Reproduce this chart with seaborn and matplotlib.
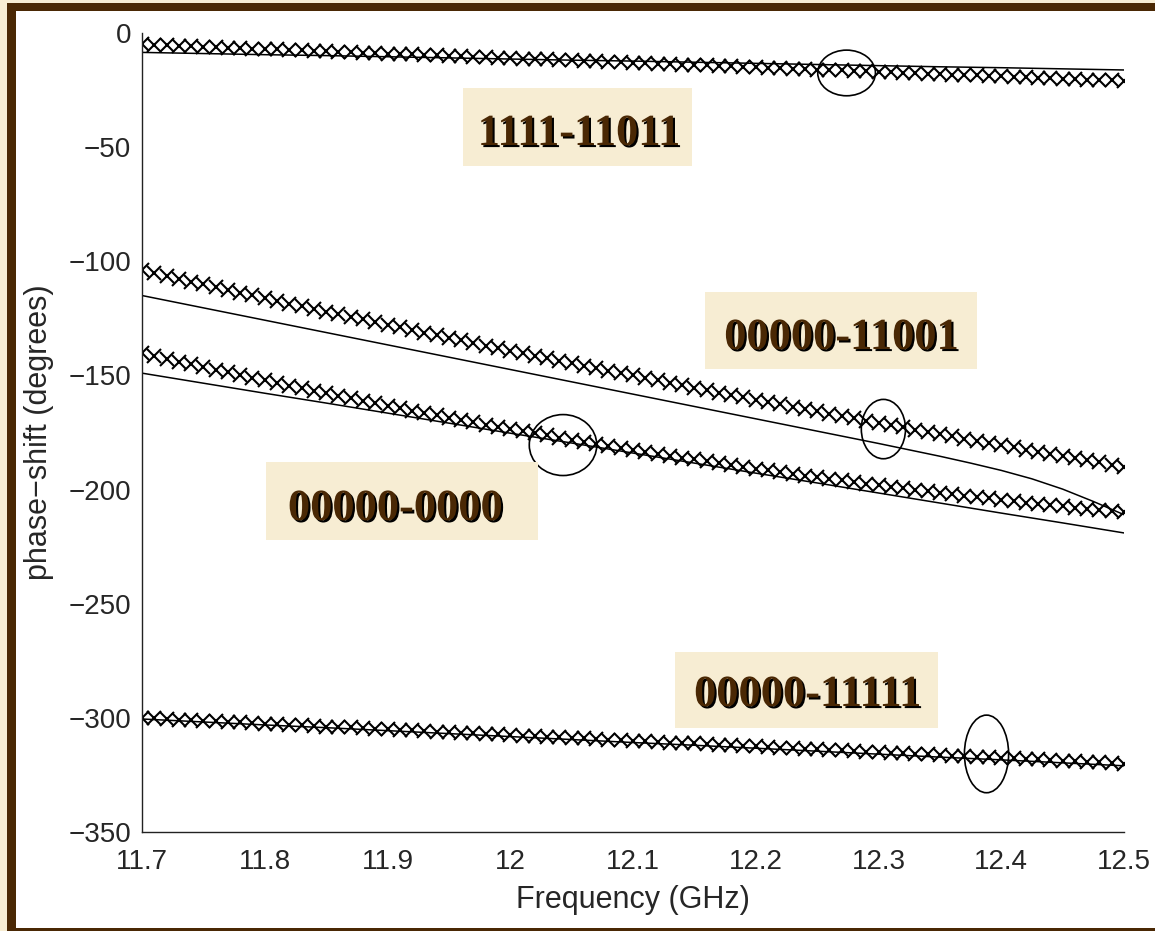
"""
Phase-shift vs frequency for four switch states (measured x vs simulated line)
"""
import numpy as np
import pandas as pd
import matplotlib
matplotlib.use("Agg")
import matplotlib.pyplot as plt
import matplotlib.patheffects as pe
from matplotlib.patches import Ellipse, Rectangle
import seaborn as sns

# ---- data ----
freq_pts = np.linspace(11.7, 12.5, 81)      # marker sweep, 10 MHz step
freq_line = np.linspace(11.7, 12.5, 17)     # simulated curves, 50 MHz step

meas_1111_11011 = [
    -5.0, -5.2, -5.4, -5.6, -5.8, -6.0, -6.2, -6.4, -6.6, -6.8,
    -7.0, -7.2, -7.4, -7.6, -7.8, -8.0, -8.2, -8.4, -8.6, -8.8,
    -9.0, -9.2, -9.4, -9.6, -9.8, -10.0, -10.2, -10.4, -10.6, -10.8,
    -11.0, -11.2, -11.4, -11.6, -11.8, -12.0, -12.2, -12.4, -12.6, -12.8,
    -13.0, -13.2, -13.4, -13.6, -13.8, -14.0, -14.2, -14.4, -14.6, -14.8,
    -15.0, -15.2, -15.4, -15.6, -15.8, -16.0, -16.2, -16.4, -16.6, -16.8,
    -17.0, -17.2, -17.4, -17.6, -17.8, -18.0, -18.2, -18.4, -18.6, -18.8,
    -19.0, -19.2, -19.4, -19.6, -19.8, -20.0, -20.2, -20.4, -20.6, -20.8,
    -21.0,
]
meas_00000_11001 = [
    -104.0, -105.2, -106.4, -107.7, -108.9, -110.1, -111.3, -112.5, -113.7, -114.9,
    -116.1, -117.3, -118.5, -119.6, -120.8, -122.0, -123.1, -124.3, -125.5, -126.6,
    -127.8, -128.9, -130.1, -131.2, -132.4, -133.5, -134.6, -135.7, -136.9, -138.0,
    -139.1, -140.2, -141.3, -142.4, -143.5, -144.6, -145.7, -146.8, -147.9, -149.0,
    -150.0, -151.1, -152.2, -153.2, -154.3, -155.4, -156.4, -157.5, -158.5, -159.6,
    -160.6, -161.6, -162.7, -163.7, -164.7, -165.7, -166.8, -167.8, -168.8, -169.8,
    -170.8, -171.8, -172.8, -173.8, -174.7, -175.7, -176.7, -177.7, -178.7, -179.6,
    -180.6, -181.5, -182.5, -183.4, -184.4, -185.3, -186.3, -187.2, -188.1, -189.1,
    -190.0,
]
meas_00000_0000 = [
    -140.2, -141.5, -142.7, -143.9, -145.1, -146.3, -147.5, -148.7, -149.9, -151.1,
    -152.2, -153.4, -154.5, -155.6, -156.8, -157.9, -159.0, -160.1, -161.1, -162.2,
    -163.3, -164.3, -165.4, -166.4, -167.4, -168.5, -169.5, -170.5, -171.5, -172.4,
    -173.4, -174.4, -175.3, -176.3, -177.2, -178.1, -179.0, -179.9, -180.8, -181.7,
    -182.6, -183.4, -184.3, -185.2, -186.0, -186.8, -187.6, -188.5, -189.3, -190.0,
    -190.8, -191.6, -192.4, -193.1, -193.9, -194.6, -195.3, -196.0, -196.7, -197.4,
    -198.1, -198.8, -199.5, -200.1, -200.8, -201.4, -202.1, -202.7, -203.3, -203.9,
    -204.5, -205.1, -205.7, -206.2, -206.8, -207.3, -207.9, -208.4, -208.9, -209.4,
    -209.9,
]
meas_00000_11111 = [
    -300.0, -300.2, -300.5, -300.8, -301.0, -301.2, -301.5, -301.8, -302.0, -302.2,
    -302.5, -302.8, -303.0, -303.2, -303.5, -303.8, -304.0, -304.2, -304.5, -304.8,
    -305.0, -305.2, -305.5, -305.8, -306.0, -306.2, -306.5, -306.8, -307.0, -307.2,
    -307.5, -307.8, -308.0, -308.2, -308.5, -308.8, -309.0, -309.2, -309.5, -309.8,
    -310.0, -310.2, -310.5, -310.8, -311.0, -311.2, -311.5, -311.8, -312.0, -312.2,
    -312.5, -312.8, -313.0, -313.2, -313.5, -313.8, -314.0, -314.2, -314.5, -314.8,
    -315.0, -315.2, -315.5, -315.8, -316.0, -316.2, -316.5, -316.8, -317.0, -317.2,
    -317.5, -317.8, -318.0, -318.2, -318.5, -318.8, -319.0, -319.2, -319.5, -319.8,
    -320.0,
]

sim_1111_11011 = [-8.5, -9.0, -9.5, -9.9, -10.4, -10.9, -11.4, -11.9, -12.3,
                  -12.8, -13.3, -13.8, -14.3, -14.8, -15.2, -15.7, -16.2]
# this curve bends near the top of the band, so it has its own denser tail
freq_11001 = [11.7, 11.8, 11.9, 12.0, 12.1, 12.2, 12.3, 12.35, 12.375,
              12.4, 12.425, 12.45, 12.475, 12.5]
sim_00000_11001 = [-115.0, -125.8, -136.6, -147.4, -158.2, -169.0, -179.8, -185.4, -188.4,
                   -191.6, -195.3, -199.8, -205.2, -211.0]
sim_00000_0000 = [-149.0, -153.4, -157.8, -162.1, -166.5, -170.9, -175.3, -179.6, -184.0,
                  -188.4, -192.8, -197.1, -201.5, -205.9, -210.3, -214.6, -219.0]
sim_00000_11111 = [-300.5, -301.8, -303.1, -304.3, -305.6, -306.9, -308.2, -309.5, -310.8,
                   -312.0, -313.3, -314.6, -315.9, -317.2, -318.4, -319.7, -321.0]

states = ["1111-11011", "00000-11001", "00000-0000", "00000-11111"]
meas_series = [meas_1111_11011, meas_00000_11001, meas_00000_0000, meas_00000_11111]
sim_series = [(freq_line, sim_1111_11011), (freq_11001, sim_00000_11001),
              (freq_line, sim_00000_0000), (freq_line, sim_00000_11111)]

# label boxes (figure pixels: x0, y0_top, width, height) and text anchors
box_px = [(463, 88, 229, 78), (705, 292, 272, 77), (266, 462, 272, 78), (675, 652, 263, 76)]
text_px = [(579, 145), (842, 349), (396, 520), (808, 706)]

# annotation ellipses (centre freq, centre phase, width GHz, height deg)
ellipses = [(12.274, -17.5, 0.047, 20.0), (12.043, -180.5, 0.055, 26.7),
            (12.304, -173.5, 0.036, 26.0), (12.388, -315.8, 0.036, 34.0)]

# ---- style ----
BEIGE = "#F7EDD3"
BROWN = "#4A2804"
sns.set_style("white")
plt.rcParams["font.family"] = ["Liberation Sans", "DejaVu Sans"]

W, H = 1155, 931
fig = plt.figure(figsize=(W / 100, H / 100), dpi=100, facecolor=BEIGE)

# brown slide frame and white panel
fig.add_artist(Rectangle((7 / W, 0), 1.0, 1 - 3 / H, transform=fig.transFigure,
                         facecolor=BROWN, edgecolor="none", zorder=-3))
fig.add_artist(Rectangle((16 / W, 3 / H), 1.0, 1 - 14 / H, transform=fig.transFigure,
                         facecolor="white", edgecolor="none", zorder=-2))

ax = fig.add_axes([142 / W, 1 - 832 / H, 982 / W, 799 / H])
ax.set_facecolor("none")

for meas, (fx, sim) in zip(meas_series, sim_series):
    sns.lineplot(x=fx, y=sim, ax=ax, color="black", linewidth=1.1,
                 sort=False, estimator=None)
    sns.lineplot(x=freq_pts, y=meas, ax=ax, color="black", linestyle="none",
                 marker="x", markersize=9.5, markeredgewidth=1.5,
                 markeredgecolor="black", sort=False, estimator=None)

for cx, cy, w, h in ellipses:
    ax.add_patch(Ellipse((cx, cy), w, h, fill=False, edgecolor="black",
                         linewidth=1.2, zorder=4))

ax.set_xlim(11.7, 12.5)
ax.set_ylim(-350, 0)
ax.set_xticks([11.7, 11.8, 11.9, 12.0, 12.1, 12.2, 12.3, 12.4, 12.5])
ax.set_xticklabels(["11.7", "11.8", "11.9", "12", "12.1", "12.2", "12.3", "12.4", "12.5"])
ax.set_yticks([0, -50, -100, -150, -200, -250, -300, -350])

sns.despine(ax=ax)
for side in ["left", "bottom"]:
    ax.spines[side].set_color("#222222")
    ax.spines[side].set_linewidth(1.0)
ax.tick_params(direction="in", length=7.5, width=1.0, color="#222222",
               labelcolor="#262626", labelsize=20)
ax.tick_params(axis="x", pad=12)
ax.tick_params(axis="y", pad=8)

ax.set_xlabel("Frequency (GHz)", fontsize=22, color="#262626")
ax.set_ylabel("phase\u2212shift (degrees)", fontsize=22, color="#262626")
ax.xaxis.set_label_coords(0.5, -0.066)
ax.yaxis.set_label_coords(-0.09, 0.5)

# state labels on beige boxes with drop shadow
for name, (bx, by, bw, bh), (tx, ty) in zip(states, box_px, text_px):
    fig.add_artist(Rectangle((bx / W, 1 - (by + bh) / H), bw / W, bh / H,
                             transform=fig.transFigure, facecolor=BEIGE,
                             edgecolor="none", zorder=5))
    fig.text(tx / W, 1 - ty / H, name, ha="center", va="baseline",
             fontsize=32, fontweight="bold", color=BROWN,
             family=["Liberation Serif", "DejaVu Serif"], zorder=6,
             path_effects=[pe.SimplePatchShadow(offset=(1.5, -1.5),
                                                shadow_rgbFace="black", alpha=1.0),
                           pe.Normal()])

fig.savefig("out.png", dpi=100, facecolor=BEIGE)
